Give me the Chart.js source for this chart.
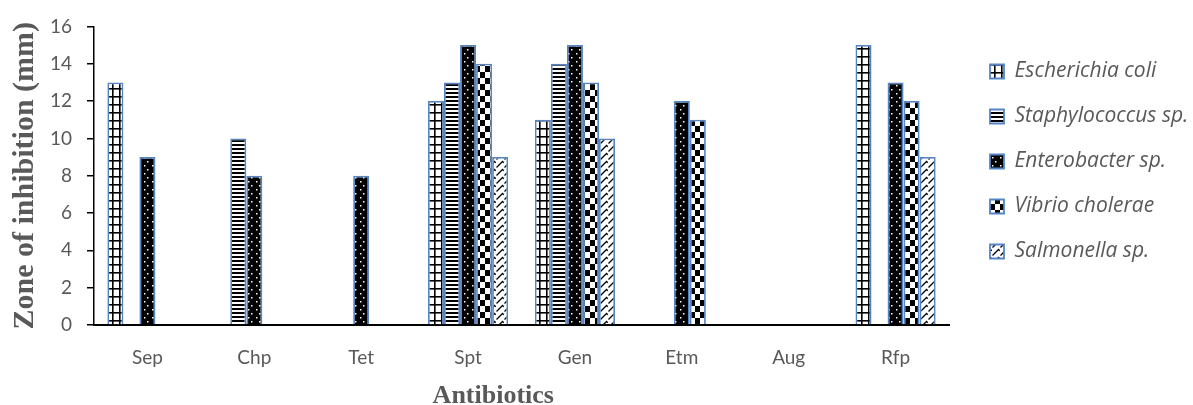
<!DOCTYPE html>
<html>
<head>
<meta charset="utf-8">
<script src="https://cdn.jsdelivr.net/npm/chart.js@4.4.1/dist/chart.umd.min.js"></script>
<style>
  html, body { margin: 0; padding: 0; background: #ffffff; }
  canvas { display: block; }
</style>
</head>
<body>
<canvas id="zoneChart" width="1193" height="405"></canvas>
<script>
// Antibiotic discs tested
const antibiotics = ['Sep', 'Chp', 'Tet', 'Spt', 'Gen', 'Etm', 'Aug', 'Rfp'];

// Zone of inhibition (mm) per organism
const escherichiaColi   = [13, 0, 0, 12, 11, 0, 0, 15];
const staphylococcusSp  = [0, 10, 0, 13, 14, 0, 0, 0];
const enterobacterSp    = [9, 8, 8, 15, 15, 12, 0, 13];
const vibrioCholerae    = [0, 0, 0, 14, 13, 11, 0, 12];
const salmonellaSp      = [0, 0, 0, 9, 10, 0, 0, 9];

const seriesNames = ['Escherichia coli', 'Staphylococcus sp.', 'Enterobacter sp.', 'Vibrio cholerae', 'Salmonella sp.'];
const seriesValues = [escherichiaColi, staphylococcusSp, enterobacterSp, vibrioCholerae, salmonellaSp];

// Y axis range
const yMin = 0;
const yMax = 16;
const yStep = 2;

const yTitle = 'Zone of inhibition (mm)';
const xTitle = 'Antibiotics';

// Text styling
const inkGrey = '#595959';
const tickFont = { family: 'Lato', size: 19 };
const legendFont = { family: 'Open Sans', style: 'italic', size: 21 };
const titleFamily = '"Liberation Serif", "Times New Roman", serif';

// Legend geometry
const legendColumn = 244;   // width reserved right of the plot
const legendBox = 14;
const legendGap = 24;
const legendShiftX = 17;
const legendShiftY = 12;

const barEdge = '#5585C4';

const canvas = document.getElementById('zoneChart');
const ctx = canvas.getContext('2d');

// Monochrome hatch fills
function makePattern(w, h, paint) {
  const tile = document.createElement('canvas');
  tile.width = w;
  tile.height = h;
  const g = tile.getContext('2d');
  g.fillStyle = '#ffffff';
  g.fillRect(0, 0, w, h);
  paint(g);
  return ctx.createPattern(tile, 'repeat');
}

function buildFills() {
  const gridFill = makePattern(7, 8, g => {
    g.fillStyle = '#000';
    g.fillRect(0, 0, 7, 1.6);
    g.fillRect(0, 0, 1.6, 8);
  });
  const stripeFill = makePattern(4, 4, g => {
    g.fillStyle = '#000';
    g.fillRect(0, 0, 4, 2);
  });
  const dotFill = makePattern(8, 8, g => {
    g.fillStyle = '#000';
    g.fillRect(0, 0, 8, 8);
    g.fillStyle = '#fff';
    g.fillRect(3, 1, 1.5, 1.5);
    g.fillRect(0, 5, 1.5, 1.5);
  });
  const checkFill = makePattern(10, 12, g => {
    g.fillStyle = '#000';
    g.fillRect(0, 0, 5, 6);
    g.fillRect(5, 6, 5, 6);
  });
  const diagFill = makePattern(8, 8, g => {
    g.strokeStyle = '#000';
    g.lineWidth = 1.3;
    g.beginPath();
    g.moveTo(0.5, 7.5);
    g.lineTo(6.5, 1.5);
    g.lineTo(7.8, 2.8);
    g.stroke();
  });
  return [gridFill, stripeFill, dotFill, checkFill, diagFill];
}

// Moves the legend column clear of the plot
const legendOffset = {
  id: 'legendOffset',
  afterLayout(chart) {
    const lg = chart.legend;
    lg.left += legendShiftX;
    lg.right += legendShiftX;
    lg.top += legendShiftY;
    lg.bottom += legendShiftY;
  }
};

// Category axis caption
const axisCaption = {
  id: 'axisCaption',
  afterDraw(chart) {
    const { ctx: c, chartArea } = chart;
    c.save();
    c.font = 'bold 26px ' + titleFamily;
    c.fillStyle = inkGrey;
    c.textAlign = 'center';
    c.textBaseline = 'alphabetic';
    c.fillText(xTitle, chartArea.left + chartArea.width * 0.467, chart.height - 2);
    c.restore();
  }
};

function draw() {
  const fills = buildFills();

  // Right padding so the legend occupies exactly its reserved column
  ctx.save();
  ctx.font = 'italic ' + legendFont.size + 'px "' + legendFont.family + '"';
  const widest = Math.max(...seriesNames.map(n => ctx.measureText(n).width));
  ctx.restore();
  const legendContent = legendGap + legendBox + legendFont.size / 2 + widest + 10;
  const padRight = Math.max(0, legendColumn - legendContent);

  new Chart(ctx, {
    type: 'bar',
    data: {
      labels: antibiotics,
      datasets: seriesNames.map((name, i) => ({
        label: name,
        data: seriesValues[i],
        backgroundColor: fills[i],
        borderColor: barEdge,
        borderWidth: 1.8,
        categoryPercentage: 0.75,
        barPercentage: 1.0
      }))
    },
    options: {
      responsive: false,
      animation: false,
      devicePixelRatio: 1,
      layout: { padding: { top: 25, right: padRight, bottom: 0, left: 0 } },
      plugins: {
        tooltip: { enabled: false },
        legend: {
          position: 'right',
          align: 'start',
          labels: {
            boxWidth: legendBox,
            boxHeight: legendBox,
            padding: legendGap,
            color: inkGrey,
            font: legendFont
          }
        }
      },
      scales: {
        x: {
          grid: { display: false },
          border: { display: true, color: '#000', width: 2 },
          ticks: { color: inkGrey, font: tickFont, padding: 13 },
          afterFit(scale) { scale.height = 80; }
        },
        y: {
          min: yMin,
          max: yMax,
          ticks: { stepSize: yStep, color: inkGrey, font: tickFont, padding: 15 },
          grid: { drawOnChartArea: false, drawTicks: true, tickLength: 7, color: '#000', lineWidth: 1.5 },
          border: { display: true, color: '#000', width: 1.5 },
          title: {
            display: true,
            text: yTitle,
            color: inkGrey,
            font: { family: titleFamily, weight: 'bold', size: 30 },
            padding: { top: 7, bottom: 0 }
          },
          afterFit(scale) { scale.width = 94; }
        }
      }
    },
    plugins: [legendOffset, axisCaption]
  });
}

Promise.all([
  document.fonts.load('19px "Lato"'),
  document.fonts.load('italic 21px "Open Sans"'),
  document.fonts.load('bold 30px "Liberation Serif"')
]).then(draw, draw);
</script>
</body>
</html>
